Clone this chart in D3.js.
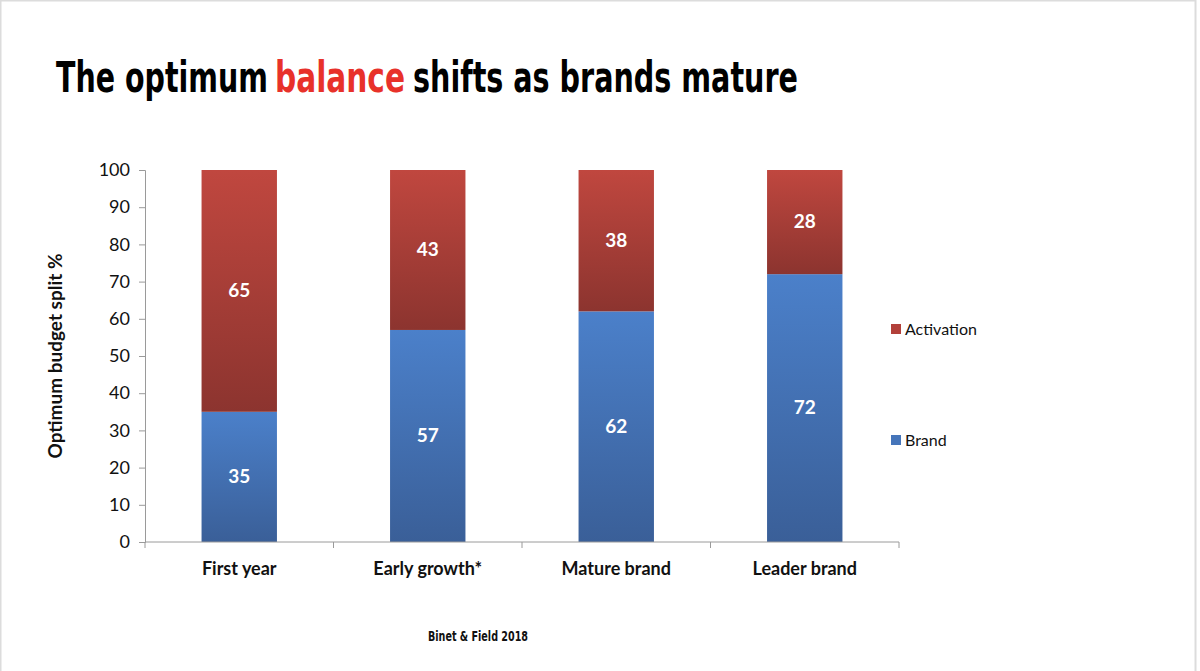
<!DOCTYPE html>
<html><head><meta charset="utf-8">
<script src="https://cdn.jsdelivr.net/npm/d3@7"></script>
<style>body{margin:0;background:#fff}svg{display:block}</style>
</head><body>
<script>
const categories = ["First year", "Early growth*", "Mature brand", "Leader brand"];
const brand = [35, 57, 62, 72];
const activation = [65, 43, 38, 28];
const yTicks = [0,10,20,30,40,50,60,70,80,90,100];
const seriesNames = ["Activation", "Brand"];
const titleParts = ["The optimum", "balance", "shifts as brands mature"];

const W = 1200, H = 671;
const svg = d3.select("body").append("svg").attr("width", W).attr("height", H);
const defs = svg.append("defs");
const gb = defs.append("linearGradient").attr("id","gBlue").attr("x1",0).attr("y1",0).attr("x2",0).attr("y2",1);
gb.append("stop").attr("offset","0%").attr("stop-color","#4b80ca");
gb.append("stop").attr("offset","100%").attr("stop-color","#3a5f98");
const gr = defs.append("linearGradient").attr("id","gRed").attr("x1",0).attr("y1",0).attr("x2",0).attr("y2",1);
gr.append("stop").attr("offset","0%").attr("stop-color","#c0473f");
gr.append("stop").attr("offset","100%").attr("stop-color","#8c342f");

// slide frame
svg.append("rect").attr("x",0.5).attr("y",0.5).attr("width",1195).attr("height",680)
  .attr("fill","none").attr("stroke","#dcdcdc").attr("stroke-width",2);

// title (three pieces, each fitted to its span, stretched vertically)
const titleSpans = [[56, 212, "#000"], [275, 130, "#e8312a"], [413, 385, "#000"]];
titleParts.forEach((t,i) => {
  svg.append("text").attr("transform",`translate(${titleSpans[i][0]},92) scale(1,1.3)`)
    .attr("font-family","'DejaVu Sans Condensed','Liberation Sans Narrow',sans-serif")
    .attr("font-weight","bold").attr("font-size",33).attr("fill",titleSpans[i][2])
    .attr("textLength",titleSpans[i][1]).attr("lengthAdjust","spacingAndGlyphs").text(t);
});

const x0 = 145, x1 = 899, yTop = 170, yBot = 542;
const x = d3.scaleBand().domain(categories).range([x0, x1]).paddingInner(0.6).paddingOuter(0.3);
const y = d3.scaleLinear().domain([0,100]).range([yBot, yTop]);

// y axis
const yAxis = svg.append("g").attr("transform",`translate(${x0},0)`)
  .call(d3.axisLeft(y).tickValues(yTicks).tickSize(6).tickPadding(9));
yAxis.select(".domain").attr("stroke","#9a9a9a");
yAxis.selectAll(".tick line").attr("stroke","#9a9a9a");
yAxis.selectAll("text").attr("font-family","Lato, 'Open Sans', sans-serif").attr("font-size",18).attr("fill","#111");

// bars
const g = svg.append("g");
categories.forEach((c,i) => {
  g.append("rect").attr("x",x(c)).attr("width",x.bandwidth())
    .attr("y",y(brand[i])).attr("height",y(0)-y(brand[i])).attr("fill","url(#gBlue)");
  g.append("rect").attr("x",x(c)).attr("width",x.bandwidth())
    .attr("y",y(brand[i]+activation[i])).attr("height",y(brand[i])-y(brand[i]+activation[i])).attr("fill","url(#gRed)");
  g.append("text").attr("x",x(c)+x.bandwidth()/2).attr("y",y(brand[i]/2)+6)
    .attr("text-anchor","middle").attr("fill","#fff").attr("font-weight","bold")
    .attr("font-family","Lato, 'Open Sans', sans-serif").attr("font-size",19).text(brand[i]);
  g.append("text").attr("x",x(c)+x.bandwidth()/2).attr("y",y(brand[i]+activation[i]/2)+6)
    .attr("text-anchor","middle").attr("fill","#fff").attr("font-weight","bold")
    .attr("font-family","Lato, 'Open Sans', sans-serif").attr("font-size",19).text(activation[i]);
});

// x axis
const xg = svg.append("g").attr("transform",`translate(0,${yBot})`);
xg.append("line").attr("x1",x0).attr("x2",x1).attr("stroke","#9a9a9a");
const step = (x1-x0)/categories.length;
d3.range(categories.length+1).forEach(k => {
  xg.append("line").attr("x1",x0+k*step).attr("x2",x0+k*step).attr("y1",0).attr("y2",6).attr("stroke","#9a9a9a");
});
categories.forEach(c => {
  xg.append("text").attr("x",x(c)+x.bandwidth()/2).attr("y",33).attr("text-anchor","middle")
    .attr("font-family","Lato, 'Open Sans', sans-serif").attr("font-weight","bold").attr("font-size",18)
    .attr("fill","#111").text(c);
});

// y axis title
svg.append("text").attr("transform",`translate(62,${(yTop+yBot)/2}) rotate(-90)`)
  .attr("text-anchor","middle").attr("font-family","Lato, 'Open Sans', sans-serif")
  .attr("font-weight","bold").attr("font-size",19).attr("fill","#111").text("Optimum budget split %");

// legend
const legendY = [329, 440];
const legendFill = ["#b2403a", "#4575ba"];
seriesNames.forEach((s,i) => {
  svg.append("rect").attr("x",891).attr("y",legendY[i]-5).attr("width",10).attr("height",10).attr("fill",legendFill[i]);
  svg.append("text").attr("x",905).attr("y",legendY[i]+6).attr("font-family","Lato, 'Open Sans', sans-serif")
    .attr("font-size",16).attr("fill","#111").text(s);
});

// source
svg.append("text").attr("x",478).attr("y",641).attr("text-anchor","middle")
  .attr("font-family","'DejaVu Sans Condensed','Liberation Sans Narrow',sans-serif")
  .attr("font-weight","bold").attr("font-size",14).attr("textLength",100).attr("lengthAdjust","spacingAndGlyphs")
  .attr("fill","#111").text("Binet & Field 2018");
</script>
</body></html>
